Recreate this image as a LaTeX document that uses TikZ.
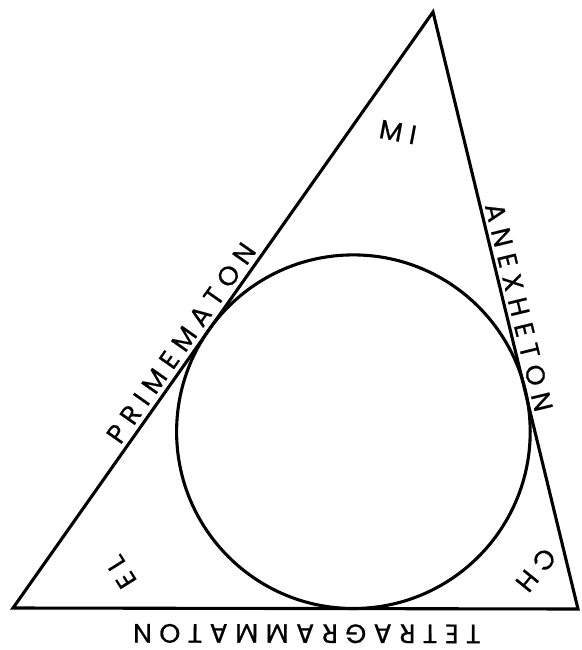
\documentclass[tikz,border=0pt]{standalone}
\usepackage{fontspec}
\setmainfont{Poppins}
\newfontfamily\spacedfont[LetterSpace=28, FakeBold=0.6]{Poppins}
\usepackage{tikz}
\usetikzlibrary{calc}

\tikzset{
  side/.style={line width=2.2pt, line join=miter},
  ring/.style={line width=2.2pt},
  sidelabel/.style={font=\spacedfont\fontsize{19}{22}\selectfont, inner sep=1pt},
  cornerlabel/.style={font=\spacedfont\fontsize{19}{22}\selectfont, inner sep=0pt}
}

\begin{document}
\begin{tikzpicture}[x=0.025cm, y=-0.025cm]
  \useasboundingbox (0,0) rectangle (582,650);

  % --- Corners of the triangle ---
  \coordinate (left) at (13,608);
  \coordinate (apex) at (433,12);
  \coordinate (right) at (578,609);
  \coordinate (ctr) at (353.4,431.7);

  % --- Triangle with the names along its sides ---
  \draw[side] (left) -- node[sloped, above=2pt, pos=0.43, sidelabel] (prime) {PRIMEMATON}
    (apex) -- node[sloped, above=1pt, pos=0.5, sidelabel] (anex) {ANEXHETON}
    (right) -- node[sloped, allow upside down, above=9pt, pos=0.48, sidelabel] (tetra) {TETRAGRAMMATON}
    cycle;

  % --- Inscribed circle ---
  \draw[ring] (ctr) circle[radius=176.8];

  % --- Names in the corners ---
  \node[cornerlabel, rotate=-10.7] (mi) at (398,132) {MI};
  \node[cornerlabel, rotate=122] (el) at (121,572) {EL};
  \node[cornerlabel, rotate=231] (ch) at (536,570) {CH};
\end{tikzpicture}
\end{document}
